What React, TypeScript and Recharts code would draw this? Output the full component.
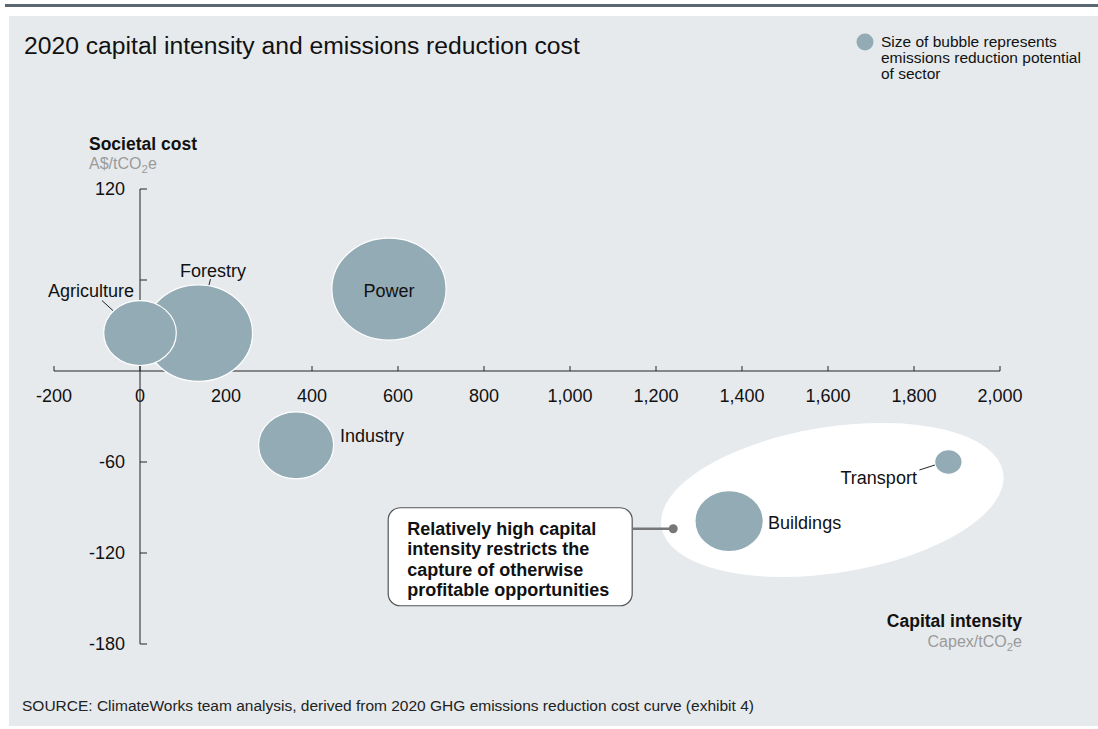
import React from "react";
import {
  ScatterChart,
  Scatter,
  XAxis,
  YAxis,
  ZAxis,
  ReferenceLine,
  ReferenceDot,
} from "recharts";

// sectors, drawn in this order (Agriculture sits on top of Forestry)
const sectors = ["Forestry", "Agriculture", "Power", "Industry", "Buildings", "Transport"];
const capitalIntensity = [136, 0, 579, 363, 1370, 1880]; // Capex/tCO2e
const societalCost = [25, 25, 54, -49, -99, -60]; // A$/tCO2e
const reductionPotential = [23.3, 10.5, 26, 11.2, 9.3, 1.5]; // bubble size

const xTicks = [-200, 0, 200, 400, 600, 800, 1000, 1200, 1400, 1600, 1800, 2000];
const yTicks = [120, 60, -60, -120, -180];
const yTickLabels = ["120", "", "-60", "-120", "-180"];

const calloutLines = [
  "Relatively high capital",
  "intensity restricts the",
  "capture of otherwise",
  "profitable opportunities",
];

const data = sectors.map((name, i) => ({
  name,
  x: capitalIntensity[i],
  y: societalCost[i],
  z: reductionPotential[i],
}));

const FONT = '"Liberation Sans", Arial, Helvetica, sans-serif';
const BUBBLE = "#93abb5";
const BG = "#e6eaed";

// where each sector's name sits, relative to its bubble centre (px)
const labelPlacement: Record<
  string,
  { dx: number; dy: number; anchor: "start" | "middle" | "end"; leader?: number[] }
> = {
  Power: { dx: 0, dy: 2, anchor: "middle" },
  Industry: { dx: 44, dy: -9, anchor: "start" },
  Buildings: { dx: 39, dy: 1.5, anchor: "start" },
  Transport: { dx: -31.5, dy: 15.5, anchor: "end", leader: [-29, 8, -13.5, 3] },
  Forestry: { dx: 14.5, dy: -62, anchor: "middle", leader: [12, -54, 10.5, -48] },
  Agriculture: { dx: -6, dy: -42, anchor: "end", leader: [-38, -32.5, -27, -22.5] },
};

const Bubble = (props: any) => {
  const { cx, cy, payload } = props;
  const r = props.width ? props.width / 2 : Math.sqrt((props.size || 0) / Math.PI);
  const p = labelPlacement[payload.name];
  return (
    <g>
      <ellipse cx={cx} cy={cy} rx={r * 1.12} ry={r} fill={BUBBLE} stroke="#ffffff" strokeWidth={1.2} />
      {p.leader && (
        <line
          x1={cx + p.leader[0]}
          y1={cy + p.leader[1]}
          x2={cx + p.leader[2]}
          y2={cy + p.leader[3]}
          stroke="#222"
          strokeWidth={1}
        />
      )}
      <text
        x={cx + p.dx}
        y={cy + p.dy}
        textAnchor={p.anchor}
        dominantBaseline="central"
        fontSize={18}
        fontFamily={FONT}
        fill="#111"
      >
        {payload.name}
      </text>
    </g>
  );
};

const XTick = ({ cx, cy, value }: any) => (
  <g>
    <line x1={cx} y1={cy} x2={cx} y2={cy - 5} stroke="#222" strokeWidth={1} />
    <text x={cx} y={cy + 25} textAnchor="middle" dominantBaseline="central" fontSize={18} fontFamily={FONT} fill="#111">
      {value.toLocaleString("en-US")}
    </text>
  </g>
);

const YTick = ({ cx, cy, label }: any) => (
  <g>
    <line x1={cx} y1={cy} x2={cx + 7} y2={cy} stroke="#222" strokeWidth={1} />
    {label && (
      <text x={cx - 15} y={cy} textAnchor="end" dominantBaseline="central" fontSize={18} fontFamily={FONT} fill="#111">
        {label}
      </text>
    )}
  </g>
);

const Highlight = ({ cx, cy }: any) => (
  <ellipse cx={cx} cy={cy} rx={173} ry={73} transform={`rotate(-9 ${cx} ${cy})`} fill="#ffffff" />
);

const Callout = ({ cx, cy }: any) => (
  <g>
    <rect x={cx - 285} y={cy - 21} width={244} height={98} rx={12} fill="#ffffff" stroke="#555" strokeWidth={1.2} />
    <line x1={cx - 41} y1={cy} x2={cx} y2={cy} stroke="#777" strokeWidth={2.5} />
    <circle cx={cx} cy={cy} r={4.5} fill="#777" />
    {calloutLines.map((line, i) => (
      <text key={line} x={cx - 266} y={cy + 6 + i * 20.5} fontSize={18} fontWeight="bold" fontFamily={FONT} fill="#111">
        {line}
      </text>
    ))}
  </g>
);

export default function App() {
  return (
    <div
      style={{
        position: "fixed",
        left: 0,
        top: 0,
        width: 1098,
        height: 729,
        overflow: "hidden",
        background: "#fff",
        fontFamily: FONT,
      }}
    >
      <div style={{ position: "absolute", left: 5, top: 4, width: 1093, height: 3, background: "#5b6770" }} />
      <div style={{ position: "absolute", left: 9, top: 16, width: 1089, height: 710, background: BG }} />

      <div style={{ position: "absolute", left: 0, top: 0 }}>
        <ScatterChart width={1098} height={729} margin={{ top: 189, right: 98, bottom: 85, left: 54 }}>
          <XAxis type="number" dataKey="x" domain={[-200, 2000]} hide />
          <YAxis type="number" dataKey="y" domain={[-180, 120]} hide width={0} />
          <ZAxis type="number" dataKey="z" domain={[0, 26]} range={[0, Math.PI * 51 * 51]} />

          <ReferenceDot x={1610} y={-85} r={0} shape={Highlight} />
          <ReferenceDot x={1240} y={-104} r={0} shape={Callout} />

          <ReferenceLine segment={[{ x: -200, y: 0 }, { x: 2000, y: 0 }]} stroke="#222" strokeWidth={1} />
          <ReferenceLine segment={[{ x: 0, y: -180 }, { x: 0, y: 120 }]} stroke="#222" strokeWidth={1} />
          {xTicks.map((t) => (
            <ReferenceDot key={"x" + t} x={t} y={0} r={0} shape={(p: any) => <XTick {...p} value={t} />} />
          ))}
          {yTicks.map((t, i) => (
            <ReferenceDot key={"y" + t} x={0} y={t} r={0} shape={(p: any) => <YTick {...p} label={yTickLabels[i]} />} />
          ))}

          <Scatter data={data} shape={Bubble} isAnimationActive={false} />
        </ScatterChart>
      </div>

      <svg width={1098} height={729} style={{ position: "absolute", left: 0, top: 0, pointerEvents: "none" }}>
        <text x={24} y={54} fontSize={24.7} fontFamily={FONT} fill="#111">
          2020 capital intensity and emissions reduction cost
        </text>

        <circle cx={865} cy={42} r={8.5} fill={BUBBLE} />
        {["Size of bubble represents", "emissions reduction potential", "of sector"].map((s, i) => (
          <text key={s} x={881} y={47.3 + i * 16} fontSize={15.5} fontFamily={FONT} fill="#111">
            {s}
          </text>
        ))}

        <text x={89} y={150} fontSize={17.5} fontWeight="bold" fontFamily={FONT} fill="#111">
          Societal cost
        </text>
        <text x={89} y={168.5} fontSize={16} fontFamily={FONT} fill="#9a9a9a">
          A$/tCO<tspan dy={4} fontSize={11.5}>2</tspan>
          <tspan dy={-4}>e</tspan>
        </text>

        <text x={1022} y={626.5} textAnchor="end" fontSize={17.5} fontWeight="bold" fontFamily={FONT} fill="#111">
          Capital intensity
        </text>
        <text x={1022} y={647} textAnchor="end" fontSize={16} fontFamily={FONT} fill="#9a9a9a">
          Capex/tCO<tspan dy={4} fontSize={11.5}>2</tspan>
          <tspan dy={-4}>e</tspan>
        </text>

        <text x={22} y={711} fontSize={15.5} fontFamily={FONT} fill="#222">
          SOURCE: ClimateWorks team analysis, derived from 2020 GHG emissions reduction cost curve (exhibit 4)
        </text>
      </svg>
    </div>
  );
}
